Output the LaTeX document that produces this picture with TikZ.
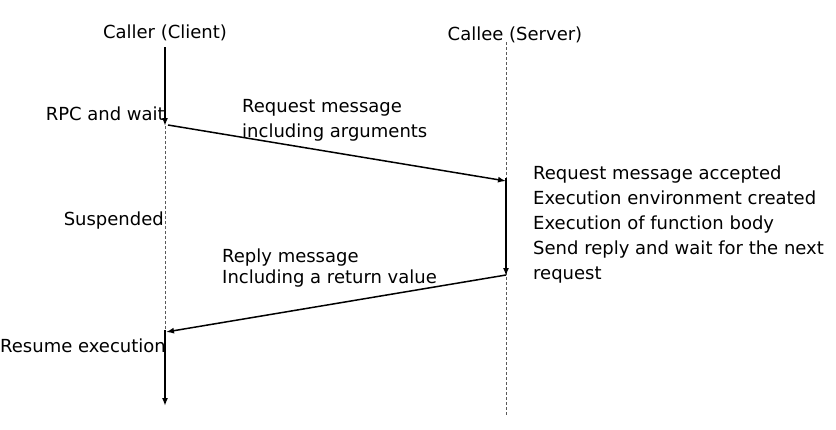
\documentclass[tikz,border=0pt]{standalone}
\usepackage{fontspec}
\setmainfont{DejaVu Sans}
\usetikzlibrary{arrows.meta}
\tikzset{
  lifeline/.style={dash pattern=on 3pt off 2pt,gray!70!black,line width=0.8pt},
  activity/.style={-{Latex[length=8pt,width=6pt]},line width=1.7pt},
  message/.style={-{Latex[length=8pt,width=6pt]},line width=1.5pt},
  lbl/.style={inner sep=0pt,font=\fontsize{18}{25}\selectfont,align=left}
}
\begin{document}
\begin{tikzpicture}[x=1pt,y=-1pt]
\useasboundingbox (0,0) rectangle (836,429);
% lifelines
\coordinate (ctop) at (165,47);
\coordinate (cwait) at (165,126);
\coordinate (cres) at (165,330);
\coordinate (cend) at (165,406);
\coordinate (stop) at (506,42);
\coordinate (sacc) at (506,181);
\coordinate (srep) at (506,276);
\coordinate (send) at (506,415);
\draw[lifeline] (cwait) -- (cres);
\draw[lifeline] (stop) -- (send);
\draw[activity] (ctop) -- (cwait);
\draw[activity] (cres) -- (cend);
\draw[activity] ([yshift=3pt]sacc) -- (srep);
% messages
\draw[message] ([xshift=3pt,yshift=1pt]cwait) -- (sacc);
\draw[message] ([yshift=1pt]srep) -- ([xshift=1pt,yshift=-2pt]cres);
% labels
\node[lbl,anchor=base] (caller) at (165,38) {Caller (Client)};
\node[lbl,anchor=base] (callee) at (515,40) {Callee (Server)};
\node[lbl,anchor=base east] (rpc) at (165,120) {RPC and wait};
\node[lbl,anchor=base east] (susp) at (164,225) {Suspended};
\node[lbl,anchor=base east] (resume) at (166,352) {Resume execution};
\node[lbl,anchor=base west] (req) at (242,137) {Request message\\including arguments};
\node[lbl,anchor=base west,font=\fontsize{18}{21}\selectfont] (rep) at (222,283) {Reply message\\Including a return value};
\node[lbl,anchor=base west] (steps) at (533,279) {Request message accepted\\Execution environment created\\Execution of function body\\Send reply and wait for the next\\request};
\end{tikzpicture}
\end{document}
